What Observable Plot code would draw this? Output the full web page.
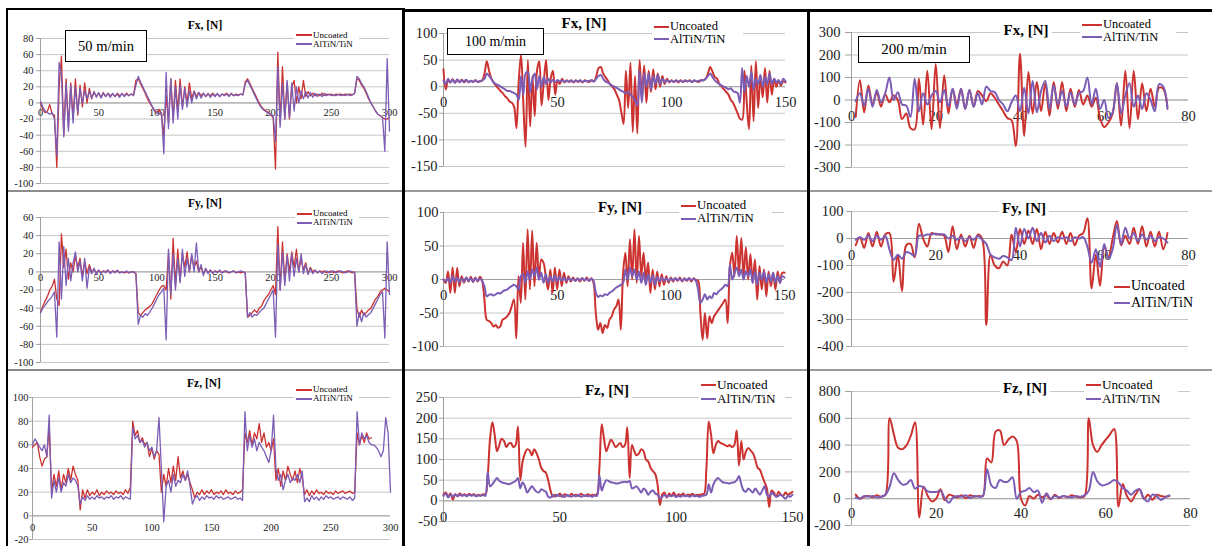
<!DOCTYPE html>
<html><head><meta charset="utf-8">
<script src="https://cdn.jsdelivr.net/npm/d3@7"></script>
<script src="https://cdn.jsdelivr.net/npm/@observablehq/plot@0.6"></script>
<style>
body{margin:0;background:#fff;}
#wrap{position:relative;width:1212px;height:546px;overflow:hidden;background:#fff;font-family:"Liberation Serif","Times New Roman",serif;color:#000;}
.title{position:absolute;transform:translate(-50%,-50%);font-weight:bold;background:#fff;padding:0 3px;white-space:nowrap;line-height:1.1;}
.box{position:absolute;border:1.5px solid #000;background:#fff;display:flex;align-items:center;justify-content:center;box-sizing:border-box;white-space:nowrap;}
.bar{position:absolute;}
</style></head>
<body><div id="wrap"></div>
<script>
// ---------- data ----------
const seriesNames = ["Uncoated", "AlTiN/TiN"];
const speeds = ["50 m/min", "100 m/min", "200 m/min"];
const forceTitles = ["Fx, [N]", "Fy, [N]", "Fz, [N]"];

// 50 m/min, x = 0..300 every 2
const fx50Unc = [0,-8,-12,-10,-2,-14,-15,-80,20,58, -40,30,-30,25,-20,30,-15,22,-5,25, 0,18,5,14,8,12,7,13,8,12, 9,11,8,12,9,11,9,12,9,11, 10,28,30,24,18,12,5,0,-5,-10, -12,-8,-15,-40,10,-25,30,-20,28,-10, 30,-5,20,0,25,5,15,8,13,9, 12,8,11,9,12,9,11,8,11,10, 12,9,11,9,11,10,11,10,26,30, 24,18,12,6,0,-5,-8,-10,-12,-15, -18,-82,63,-25,45,-20,25,-20,20,28, 0,20,5,28,8,14,9,12,9,11, 9,12,9,11,10,11,9,11,10,11, 10,11,10,11,10,12,30,28,22,18, 12,5,0,-5,-10,-14,-16,-18,-20,-20, -18];
const fx50Alt = [2,-5,-10,-12,-14,-12,-20,-65,50,35, -42,25,-35,22,-25,20,-12,18,0,15, 5,14,6,14,7,13,6,12,8,12, 7,12,8,11,7,12,8,11,9,11, 9,22,33,26,20,14,8,2,-4,-9, -12,-14,-12,-63,38,-32,30,-25,20,-20, 22,-8,18,-5,15,0,14,5,13,6, 12,8,12,7,11,8,12,8,11,9, 11,8,12,9,10,9,11,10,24,28, 22,16,10,4,-2,-6,-9,-11,-13,-14, -16,-48,45,-30,25,-20,28,-18,25,-10, 20,0,15,5,14,6,13,7,12,8, 11,8,12,9,11,9,10,9,11,9, 10,9,11,9,10,12,33,30,24,20, 14,7,0,-5,-10,-14,-16,-18,-60,55, -35];
const fy50Unc = [-45,-38,-32,-27,-20,-16,-8,-30,-37,42, 5,25,-8,10,0,18,5,15,-5,12, -2,8,0,3,-1,2,-1,1,0,2, -1,1,0,1,-1,0,-1,0,-1,0, 0,-2,-45,-48,-45,-42,-40,-38,-35,-30, -25,-20,-16,-15,-20,20,-30,37,-15,25, -10,20,5,22,0,18,5,12,0,6, -2,3,-1,2,-1,1,0,1,-1,1, 0,-1,0,1,-1,0,-1,0,-1,-50, -48,-45,-42,-45,-40,-38,-32,-28,-25,-20, -15,-25,50,-20,33,-10,20,0,22,5, 25,0,15,2,10,-2,5,0,2,-1, 1,0,1,-1,0,1,-1,0,1,0, -1,0,1,0,-1,0,-40,-50,-42,-48, -45,-42,-40,-35,-30,-27,-22,-20,-18,-20, -22];
const fy50Alt = [-45,-40,-37,-33,-30,-27,-22,-72,33,-30, 28,-15,15,-10,10,22,0,12,-10,15, -18,5,-2,4,-3,2,-2,1,-1,2, -2,1,-1,2,-1,0,-1,1,-1,0, 0,-2,-58,-48,-50,-46,-48,-44,-40,-35, -30,-25,-22,-18,-75,25,-25,20,-20,15, -12,25,-5,15,0,20,0,32,0,8, -4,4,-2,2,-2,1,-1,2,-1,0, 1,-1,0,1,-1,0,1,0,-1,-50, -45,-50,-47,-48,-45,-42,-40,-35,-30,-25, -20,-72,30,-20,22,-15,18,-10,20,-5, 15,0,20,-2,8,-3,4,-2,2,-1, 1,-2,0,1,-1,0,1,-1,0,1, 0,-1,0,1,0,-1,-60,-45,-55,-45, -50,-47,-45,-40,-35,-30,-25,-22,-73,33, -25];
const fz50Unc = [58,60,62,50,42,48,50,75,20,35, 25,38,22,35,28,40,30,42,35,30, 5,22,15,22,17,20,18,22,17,20, 18,21,19,20,18,21,19,20,18,22, 19,24,80,68,72,62,66,60,62,50, 57,48,55,52,20,35,25,40,28,42, 30,50,32,38,30,35,28,22,15,20, 18,22,18,21,19,22,18,20,19,21, 18,22,19,20,18,21,19,20,22,70, 62,72,60,70,65,78,62,70,58,62, 55,65,30,40,25,38,30,42,35,30, 38,28,40,32,18,22,17,21,18,22, 19,20,18,21,19,20,18,21,19,20, 21,19,20,21,19,20,70,60,68,62, 70,65,66];
const fz50Alt = [60,65,62,58,55,60,50,85,15,30, 20,32,20,28,25,35,28,32,30,25, 10,16,13,17,14,16,14,17,15,16, 14,16,15,17,14,16,15,17,14,16, 15,14,75,65,68,62,64,58,62,55, 58,50,55,83,40,-5,25,30,20,35, 25,30,28,35,30,38,25,10,15,17, 13,16,14,17,15,16,14,17,15,16, 14,15,16,14,15,16,14,15,13,88, 55,68,58,65,55,62,58,55,50,45, 55,85,40,30,35,22,30,35,28,32, 30,35,28,38,12,15,12,17,14,16, 13,16,14,17,15,16,14,15,16,14, 16,15,14,16,13,15,88,60,70,65, 68,62,60,60,58,55,50,55,83,70, 20];

// 100 m/min, x = 0..150 every 1
const fx100Unc = [33,-5,12,8,14,8,12,9,13,8, 12,9,11,9,12,9,10,12,25,48, 30,15,8,2,-3,-8,-12,-18,-22,-28, -30,-38,-78,10,60,-30,-113,50,-75,20, -55,30,48,-35,10,50,-25,15,30,-15, 12,5,15,8,12,9,11,8,12,9, 11,8,12,10,9,12,10,20,35,37, 25,18,12,5,0,-5,-15,-25,-48,-70, 30,-40,45,-85,20,-88,50,-20,40,-30, 30,-10,33,-5,25,0,20,5,15,8, 12,9,11,8,12,9,11,10,12,9, 11,10,9,12,12,15,25,37,28,18, 15,5,0,-5,-10,-15,-25,-30,-40,-50, -60,-62,30,-30,-80,40,-65,48,-40,20, -20,35,-30,30,-15,15,0,12,2,10, 8];
const fx100Alt = [12,5,15,8,13,7,14,8,12,10, 13,8,11,9,12,9,11,12,15,25, 20,15,8,5,3,0,-2,-5,-8,-8, -10,-12,-15,-25,20,-15,25,28,-10,15, 25,-5,20,0,18,5,15,8,13,9, 12,10,12,9,11,10,12,9,11,10, 12,9,11,10,11,12,10,15,20,22, 15,10,8,5,2,0,-2,-5,-8,-10, -12,-10,-15,-20,-25,-35,30,-30,25,0, 25,-5,20,5,22,5,15,8,12,10, 11,9,12,10,11,9,12,10,11,9, 12,10,11,12,12,15,20,25,18,12, 8,5,2,0,-2,-5,-3,-8,-10,-12, -30,35,-10,20,0,28,-5,15,5,22, 0,18,5,25,5,15,8,12,5,15, 10];
const fy100Unc = [0,-5,12,-20,18,-20,17,-10,5,-5, 3,-3,4,-4,3,-3,4,-2,-30,-60, -62,-65,-70,-68,-72,-70,-60,-58,-55,-50, -40,-30,-88,5,-35,55,-30,75,-15,73, -10,55,0,30,25,5,-15,15,-20,18, -15,15,-10,10,-5,5,-3,3,-2,2, -3,2,-2,3,-2,2,-5,-50,-75,-65, -80,-68,-72,-60,-55,-45,-40,-30,-75,10, 40,-10,60,0,75,-5,65,5,40,0, 25,-20,15,-15,12,-10,8,-8,5,-5, 3,-3,2,-2,3,-3,2,-2,2,-3, 2,-1,-2,-50,-90,-50,-88,-55,-65,-55, -50,-45,-40,-35,-30,-65,20,40,5,65, 10,62,5,48,0,38,-5,30,-30,20, -15,15,-25,12,-10,10,-15,12,-5,10, 10];
const fy100Alt = [0,-3,2,-5,5,-3,3,-4,2,-3, 3,-2,2,-3,2,-2,1,-2,-10,-25, -23,-22,-24,-22,-20,-21,-18,-16,-15,-12, -10,-8,-10,-15,5,8,-5,12,0,15, 5,18,0,10,-5,8,-5,5,-3,6, -3,4,-2,3,-2,2,-1,1,-2,1, -1,2,-1,1,-2,1,-2,-20,-26,-24, -25,-22,-23,-20,-18,-15,-12,-10,-8,-5, 15,0,18,5,15,0,12,-5,10,-8, 8,-5,6,-8,4,-3,3,-2,2,-2, 1,-1,2,-1,1,-2,1,-1,2,-1, 1,-2,-15,-35,-30,-22,-30,-25,-28,-20, -22,-18,-15,-12,-8,-10,22,0,10,18, 5,15,0,12,5,15,-5,12,-8,10, 0,12,-5,8,-3,10,-5,6,-5,5, 3];
const fz100Unc = [15,20,10,18,3,15,12,18,13,16, 12,17,14,16,12,15,13,16,15,60, 150,190,160,120,135,150,145,130,138,140, 130,135,180,50,95,115,125,122,110,125, 115,100,80,72,68,50,25,10,15,12, 18,10,16,14,11,17,13,15,12,17, 14,12,16,13,15,14,16,80,185,150, 120,135,148,140,130,135,140,130,135,178, 55,135,120,110,115,125,120,100,95,80, 72,65,40,-10,15,20,8,18,12,20, 10,16,13,18,12,15,14,17,13,15, 14,16,17,80,192,160,115,135,145,140, 138,135,132,135,130,135,170,85,145,100, 120,128,122,115,100,80,75,60,45,30, -15,25,20,10,22,15,12,20,15,18, 22];
const fz100Alt = [12,18,8,15,10,16,11,15,12,14, 11,15,12,14,11,13,12,14,12,70, 35,40,48,55,48,45,43,42,40,42, 45,48,55,30,45,35,20,28,35,28, 22,20,28,25,22,10,8,14,10,15, 11,13,9,14,12,10,13,11,14,10, 12,13,11,12,10,13,12,62,25,40, 50,48,45,44,42,42,44,45,46,45, 48,30,32,35,28,20,30,25,15,22, 25,18,15,5,10,14,10,13,11,14, 9,12,10,13,11,12,10,13,11,12, 10,12,13,15,40,20,40,50,55,50, 45,44,43,42,44,45,50,60,40,25, 22,30,25,20,30,22,15,25,35,15, 10,20,15,10,12,15,10,5,12,10, 15];

// 200 m/min, x = 1..75 every 1
const fx200Unc = [-75,88,-55,65,-20,35,-30,25,-10,20, 0,-85,-60,-125,-130,95,-110,130,-130,160, -125,110,-60,50,-20,50,-40,45,-30,40, 20,-5,30,10,-20,-50,-80,-90,-205,205, -160,125,-60,80,-50,75,-70,80,-40,80, -50,50,-30,45,-20,20,-30,10,-80,-120, -100,-60,75,-115,130,-125,130,-85,75,-50, 50,-30,55,50,-30];
const fx200Alt = [-5,30,-25,50,-30,45,-10,30,100,0, 35,-20,-25,-75,95,-50,30,-20,20,40, -10,45,-30,50,-40,50,-40,45,-30,30, -20,60,40,35,0,-20,-50,-10,20,-50, 55,-60,85,-55,40,85,-40,65,-20,40, -30,35,-20,30,40,100,-20,50,-40,0, -80,-55,75,-60,20,75,-30,20,-40,30, 0,-50,70,60,-40];
const fy200Unc = [-25,5,-35,20,-30,25,-30,15,20,-160, -60,-195,-25,-20,-70,55,0,-30,20,15, 15,10,-50,45,-40,15,-30,10,-35,15, 0,-320,-60,-100,-110,-85,-100,15,-50,35, -20,30,-20,35,-40,25,-20,20,-15,25, -20,20,-25,10,20,75,-185,-60,-175,-30, -70,0,65,-25,10,-20,40,-20,45,-30, 25,-30,25,-40,20];
const fy200Alt = [-5,5,-5,10,-10,10,-5,10,-40,-80, -60,-75,-50,-55,-65,10,10,15,15,18, 15,15,0,10,-5,5,-10,5,-5,10, -5,-20,-60,-70,-75,-65,-70,-80,40,-30, 35,0,40,-10,20,-15,10,-10,5,0, 5,-10,5,0,5,-30,-90,-40,-105,-20, -75,-40,50,-20,40,0,20,-10,15,-5, 10,-10,5,0,-15];
const fz200Unc = [30,0,15,20,10,25,15,30,600,480, 380,370,400,470,570,-140,90,20,-20,0, 70,-10,30,20,10,25,5,25,15,20, 20,300,270,500,510,400,440,465,430,0, -50,20,0,30,10,25,-5,30,5,20, 10,25,15,10,20,600,400,350,400,440, 480,520,-60,110,20,-20,30,70,0,30, -10,30,20,15,20];
const fz200Alt = [10,0,20,15,20,10,15,30,90,190, 140,105,110,140,75,95,85,55,50,50, 60,5,-30,10,20,15,25,5,20,15, 20,220,100,80,140,125,130,160,0,50, 60,80,50,60,-30,40,0,20,10,20, 15,10,20,15,25,60,200,130,100,105, 120,140,120,80,60,30,60,70,0,-20, 30,20,-10,10,25];

// tick values
const yTicks50x = [-100,-80,-60,-40,-20,0,20,40,60,80];
const yTicks50y = [-100,-80,-60,-40,-20,0,20,40,60];
const yTicks50z = [-20,0,20,40,60,80,100];
const yTicks100x = [-150,-100,-50,0,50,100];
const yTicks100y = [-100,-50,0,50,100];
const yTicks100z = [-50,0,50,100,150,200,250];
const yTicks200x = [-300,-200,-100,0,100,200,300];
const yTicks200y = [-400,-300,-200,-100,0,100];
const yTicks200z = [-200,0,200,400,600,800];
const xTicks50 = [0,50,100,150,200,250,300];
const xTicks100 = [0,50,100,150];
const xTicks200 = [0,20,40,60,80];

// ---------- styling / layout ----------
const RED = "#cc3330", PURPLE = "#7b5db6", GRID = "#c6c6c6", AXIS = "#a0a0a0", TEXT = "#222";
const FONT = "Liberation Serif, Times New Roman, serif";
const wrap = document.getElementById("wrap");

const panels = [
  {unc: fx50Unc, alt: fx50Alt, x0v: 0, step: 2, xDom: [0,300], yDom: [-100,80], yTicks: yTicks50x, xTicks: xTicks50,
   x0: 40, x1: 389, yT: 38, yB: 183, fs: 10.5, sw: 1.3, curve: "linear", tick: 4, pad: 3, xdy: 10,
   title: forceTitles[0], tx: 205, ty: 25, tfs: 11.5,
   leg: {x: 296, y1: 35, dy: 9, fs: 9, lw: 16, pr: 6}, box: {text: speeds[0], x: 65, y: 30, w: 82, h: 32, fs: 14.5}},
  {unc: fy50Unc, alt: fy50Alt, x0v: 0, step: 2, xDom: [0,300], yDom: [-100,60], yTicks: yTicks50y, xTicks: xTicks50,
   x0: 40, x1: 389, yT: 217, yB: 362, fs: 10.5, sw: 1.3, curve: "linear", tick: 4, pad: 3, xdy: 6,
   title: forceTitles[1], tx: 205, ty: 203, tfs: 11.5,
   leg: {x: 297, y1: 213.8, dy: 9, fs: 9, lw: 15, pr: 6}},
  {unc: fz50Unc, alt: fz50Alt, x0v: 0, step: 2, xDom: [0,300], yDom: [-20,100], yTicks: yTicks50z, xTicks: xTicks50,
   x0: 32, x1: 390, yT: 397, yB: 539, fs: 10.5, sw: 1.3, curve: "linear", tick: 3, pad: 1, xdy: 12,
   title: forceTitles[2], tx: 204, ty: 383, tfs: 11.5,
   leg: {x: 296, y1: 389.5, dy: 9, fs: 9, lw: 16, pr: 6}},
  {unc: fx100Unc, alt: fx100Alt, x0v: 0, step: 1, xDom: [0,150], yDom: [-150,100], yTicks: yTicks100x, xTicks: xTicks100,
   x0: 443, x1: 785, yT: 33, yB: 166, fs: 14.5, sw: 2, curve: "catmull-rom", tick: 4, pad: 2, xdy: 15.5,
   title: forceTitles[0], tx: 584, ty: 23, tfs: 15,
   leg: {x: 654, y1: 26.5, dy: 12.5, fs: 12.5, lw: 15, pr: 18}, box: {text: speeds[1], x: 447, y: 28, w: 97, h: 27, fs: 14}},
  {unc: fy100Unc, alt: fy100Alt, x0v: 0, step: 1, xDom: [0,150], yDom: [-100,100], yTicks: yTicks100y, xTicks: xTicks100,
   x0: 443, x1: 784, yT: 212, yB: 346, fs: 14.5, sw: 2, curve: "catmull-rom", tick: 3, pad: 2, xdy: 16,
   title: forceTitles[1], tx: 620, ty: 207, tfs: 15,
   leg: {x: 681, y1: 205.5, dy: 13, fs: 12.8, lw: 15, pr: 18}},
  {unc: fz100Unc, alt: fz100Alt, x0v: 0, step: 1, xDom: [0,150], yDom: [-50,250], yTicks: yTicks100z, xTicks: xTicks100,
   x0: 443, x1: 792, yT: 397, yB: 521, fs: 14.5, sw: 2, curve: "catmull-rom", tick: 4, pad: 2, xdy: 16.5,
   title: forceTitles[2], tx: 607, ty: 390, tfs: 15,
   leg: {x: 701, y1: 385, dy: 14, fs: 13.2, lw: 15, pr: 10}},
  {unc: fx200Unc, alt: fx200Alt, x0v: 1, step: 1, xDom: [0,80], yDom: [-300,300], yTicks: yTicks200x, xTicks: xTicks200,
   x0: 851, x1: 1188, yT: 32, yB: 167, fs: 14.5, sw: 2, curve: "catmull-rom", tick: 6, pad: 5, xdy: 16,
   title: forceTitles[0], tx: 1026, ty: 30, tfs: 15,
   leg: {x: 1082, y1: 24.5, dy: 12.5, fs: 12.5, lw: 20, pr: 18}, box: {text: speeds[2], x: 858, y: 36, w: 112, h: 27, fs: 15}},
  {unc: fy200Unc, alt: fy200Alt, x0v: 1, step: 1, xDom: [0,80], yDom: [-400,100], yTicks: yTicks200y, xTicks: xTicks200,
   x0: 851, x1: 1188, yT: 211, yB: 346, fs: 14.5, sw: 2, curve: "catmull-rom", tick: 5, pad: 3, xdy: 17,
   title: forceTitles[1], tx: 1024, ty: 208, tfs: 15,
   leg: {x: 1114, y1: 286.7, dy: 16.6, fs: 14, lw: 16, pr: 4}},
  {unc: fz200Unc, alt: fz200Alt, x0v: 1, step: 1, xDom: [0,80], yDom: [-200,800], yTicks: yTicks200z, xTicks: xTicks200,
   x0: 851, x1: 1190, yT: 391, yB: 525, fs: 14.5, sw: 2, curve: "catmull-rom", tick: 6, pad: 5, xdy: 15,
   title: forceTitles[2], tx: 1025, ty: 388, tfs: 15,
   leg: {x: 1086, y1: 385, dy: 13.5, fs: 13.2, lw: 15, pr: 18}}
];

function drawPanel(p) {
  const ml = 50, mr = 20, mt = 12, mb = 30;
  const W = (p.x1 - p.x0) + ml + mr, H = (p.yB - p.yT) + mt + mb;
  const unc = p.unc.map((v, i) => ({x: p.x0v + i * p.step, y: v}));
  const alt = p.alt.map((v, i) => ({x: p.x0v + i * p.step, y: v}));
  const svg = Plot.plot({
    width: W, height: H, marginLeft: ml, marginRight: mr, marginTop: mt, marginBottom: mb,
    x: {domain: p.xDom, axis: null, label: null},
    y: {domain: p.yDom, axis: null, label: null},
    style: {fontFamily: FONT, background: "transparent", overflow: "visible", color: TEXT},
    marks: [
      Plot.ruleY(p.yTicks, {stroke: GRID, strokeWidth: 1}),
      Plot.ruleY([0], {stroke: AXIS, strokeWidth: 1}),
      Plot.ruleX([p.xDom[0]], {stroke: AXIS, strokeWidth: 1}),
      Plot.axisY({ticks: p.yTicks, tickFormat: d => String(d), tickSize: p.tick, tickPadding: p.pad,
                  fontSize: p.fs, stroke: AXIS, fill: TEXT, label: null}),
      Plot.text(p.xTicks, {x: d => d, y: () => 0, dy: p.xdy, text: d => String(d), fontSize: p.fs, fill: TEXT}),
      Plot.line(unc, {x: "x", y: "y", stroke: RED, strokeWidth: p.sw, curve: p.curve, strokeLinejoin: "round"}),
      Plot.line(alt, {x: "x", y: "y", stroke: PURPLE, strokeWidth: p.sw, curve: p.curve, strokeLinejoin: "round"})
    ]
  });
  svg.style.position = "absolute";
  svg.style.left = (p.x0 - ml) + "px";
  svg.style.top = (p.yT - mt) + "px";
  wrap.appendChild(svg);

  const t = document.createElement("div");
  t.className = "title";
  t.style.left = p.tx + "px"; t.style.top = p.ty + "px"; t.style.fontSize = p.tfs + "px";
  t.textContent = p.title;
  wrap.appendChild(t);

  const l = p.leg;
  const lg = document.createElement("div");
  lg.style.cssText = `position:absolute;left:${l.x - 2}px;top:${l.y1 - l.dy / 2}px;background:#fff;padding:0 ${l.pr}px 0 2px;font-size:${l.fs}px;white-space:nowrap;`;
  [[seriesNames[0], RED], [seriesNames[1], PURPLE]].forEach(([name, c]) => {
    const r = document.createElement("div");
    r.style.cssText = `display:flex;align-items:center;height:${l.dy}px;line-height:${l.dy}px;overflow:hidden;`;
    const s = document.createElement("span");
    s.style.cssText = `display:inline-block;width:${l.lw}px;height:2px;background:${c};margin-right:1px;`;
    r.appendChild(s);
    const tx = document.createElement("span");
    tx.textContent = name;
    r.appendChild(tx);
    lg.appendChild(r);
  });
  wrap.appendChild(lg);

  if (p.box) {
    const b = document.createElement("div");
    b.className = "box";
    b.style.left = p.box.x + "px"; b.style.top = p.box.y + "px";
    b.style.width = p.box.w + "px"; b.style.height = p.box.h + "px";
    b.style.fontSize = p.box.fs + "px";
    b.textContent = p.box.text;
    wrap.appendChild(b);
  }
}
panels.forEach(drawPanel);

// frame lines
const bars = [
  [6, 8, 2, 538, "#000"],        // left border col 1
  [6, 8, 398, 2, "#000"],        // top border col 1
  [403, 9, 809, 3, "#000"],      // top border cols 2-3
  [402, 8, 3, 538, "#000"],      // divider 1
  [807, 9, 3, 537, "#000"],      // divider 2
  [8, 190, 394, 2, "#8c8c8c"],   // row separators
  [405, 190, 402, 2, "#9a9a9a"],
  [810, 190, 402, 2, "#9a9a9a"],
  [8, 369, 394, 2, "#8c8c8c"],
  [405, 369, 402, 2, "#9a9a9a"],
  [810, 369, 402, 2, "#9a9a9a"]
];
bars.forEach(([x, y, w, h, c]) => {
  const d = document.createElement("div");
  d.className = "bar";
  d.style.cssText += `left:${x}px;top:${y}px;width:${w}px;height:${h}px;background:${c};`;
  wrap.appendChild(d);
});
</script>
</body></html>
